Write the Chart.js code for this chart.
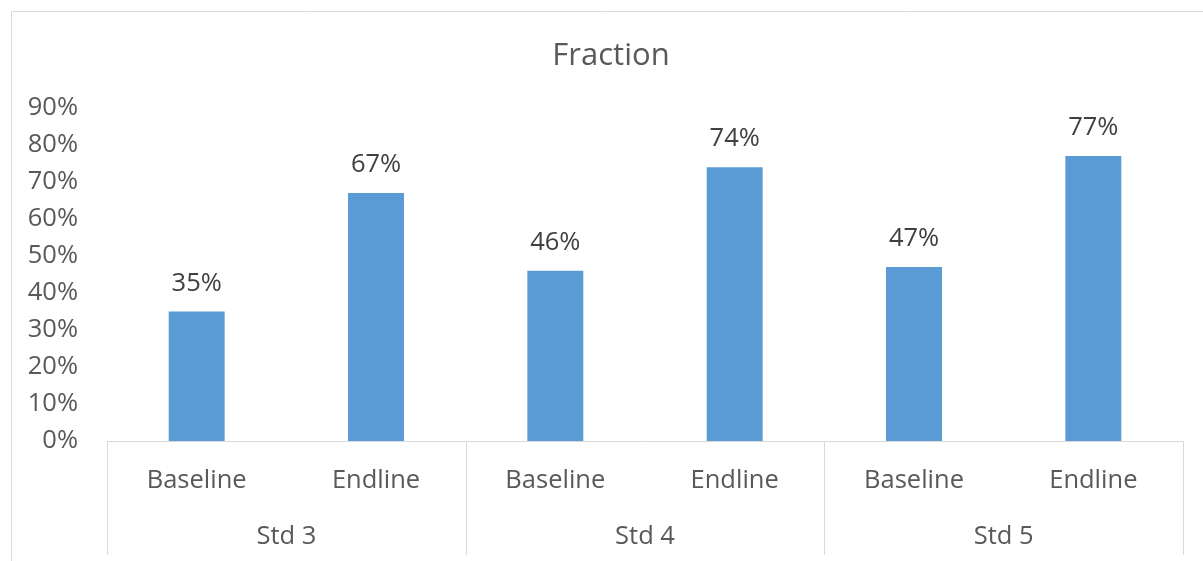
<!DOCTYPE html>
<html>
<head>
<meta charset="utf-8">
<script src="https://cdn.jsdelivr.net/npm/chart.js@4/dist/chart.umd.min.js"></script>
<style>
  html, body { margin: 0; padding: 0; background: #ffffff; }
  #wrap { width: 1203px; height: 561px; position: relative; }
</style>
</head>
<body>
<div id="wrap"><canvas id="c" width="1203" height="561"></canvas></div>
<script>
const chartTitle = 'Fraction';
const categories = ['Baseline', 'Endline', 'Baseline', 'Endline', 'Baseline', 'Endline'];
const groups = ['Std 3', 'Std 4', 'Std 5'];
const values = [0.35, 0.67, 0.46, 0.74, 0.47, 0.77];
const yMin = 0;
const yMax = 0.9;
const yStep = 0.1;

const FONT = "'Open Sans', 'DejaVu Sans', sans-serif";
const FS = 25.5;
const pct = v => Math.round(v * 100) + '%';

const frame = {
  id: 'frame',
  beforeDraw(chart) {
    const ctx = chart.ctx;
    ctx.save();
    ctx.fillStyle = '#ffffff';
    ctx.fillRect(0, 0, chart.width, chart.height);
    ctx.strokeStyle = '#d9d9d9';
    ctx.lineWidth = 1;
    ctx.beginPath();
    ctx.moveTo(11.5, chart.height);
    ctx.lineTo(11.5, 11.5);
    ctx.lineTo(chart.width, 11.5);
    ctx.stroke();
    // chart title (centred on the full chart frame, which extends past the canvas)
    ctx.font = '31px ' + FONT;
    ctx.fillStyle = '#595959';
    ctx.textAlign = 'center';
    ctx.textBaseline = 'middle';
    ctx.fillText(chartTitle, 611, 56);
    ctx.restore();
  }
};

const separators = {
  id: 'separators',
  afterDraw(chart) {
    const x = chart.scales.x;
    const area = chart.chartArea;
    const per = categories.length / groups.length;
    const cw = x.getPixelForValue(1) - x.getPixelForValue(0);
    const ctx = chart.ctx;
    ctx.save();
    ctx.strokeStyle = '#d9d9d9';
    ctx.lineWidth = 1;
    for (let g = 0; g <= groups.length; g++) {
      const px = Math.round(x.getPixelForValue(g * per) - cw / 2) + 0.5;
      ctx.beginPath();
      ctx.moveTo(px, area.bottom);
      ctx.lineTo(px, area.bottom + 114);
      ctx.stroke();
    }
    ctx.restore();
  }
};

const dataLabels = {
  id: 'dataLabels',
  afterDatasetsDraw(chart) {
    const ctx = chart.ctx;
    const meta = chart.getDatasetMeta(0);
    ctx.save();
    ctx.font = FS + 'px ' + FONT;
    ctx.fillStyle = '#404040';
    ctx.textAlign = 'center';
    ctx.textBaseline = 'middle';
    meta.data.forEach((bar, i) => {
      ctx.fillText(pct(values[i]), bar.x, bar.y - 28);
    });
    ctx.restore();
  }
};

function draw() {
  new Chart(document.getElementById('c'), {
    type: 'bar',
    data: {
      labels: categories,
      datasets: [{
        data: values,
        backgroundColor: '#5B9BD5',
        borderWidth: 0,
        barPercentage: 0.312,
        categoryPercentage: 1.0
      }]
    },
    options: {
      responsive: false,
      animation: false,
      layout: { padding: { left: 0, right: 20, top: 108, bottom: 0 } },
      plugins: {
        legend: { display: false },
        tooltip: { enabled: false },
        title: { display: false }
      },
      scales: {
        x: {
          type: 'category',
          position: 'bottom',
          offset: true,
          grid: { display: false, drawTicks: false },
          border: { display: true, color: '#d9d9d9', width: 1 },
          ticks: {
            color: '#595959',
            font: { family: FONT, size: FS },
            padding: 24.5,
            maxRotation: 0,
            autoSkip: false
          },
          afterFit(scale) { scale.height = 56; }
        },
        x2: {
          type: 'category',
          position: 'bottom',
          labels: groups,
          offset: true,
          weight: 1,
          grid: { display: false, drawTicks: false },
          border: { display: false },
          ticks: {
            color: '#595959',
            font: { family: FONT, size: FS },
            padding: 24.7,
            maxRotation: 0,
            autoSkip: false
          },
          afterFit(scale) { scale.height = 64; }
        },
        y: {
          min: yMin,
          max: yMax,
          grid: { display: false, drawTicks: false },
          border: { display: false },
          ticks: {
            stepSize: yStep,
            color: '#595959',
            font: { family: FONT, size: FS },
            padding: 29,
            callback: v => pct(v)
          },
          afterFit(scale) { scale.width = 107; }
        }
      }
    },
    plugins: [frame, separators, dataLabels]
  });
}

if (document.fonts && document.fonts.load) {
  Promise.all([
    document.fonts.load("25.5px 'Open Sans'"),
    document.fonts.load("31px 'Open Sans'")
  ]).then(draw, draw);
} else {
  draw();
}
</script>
</body>
</html>
